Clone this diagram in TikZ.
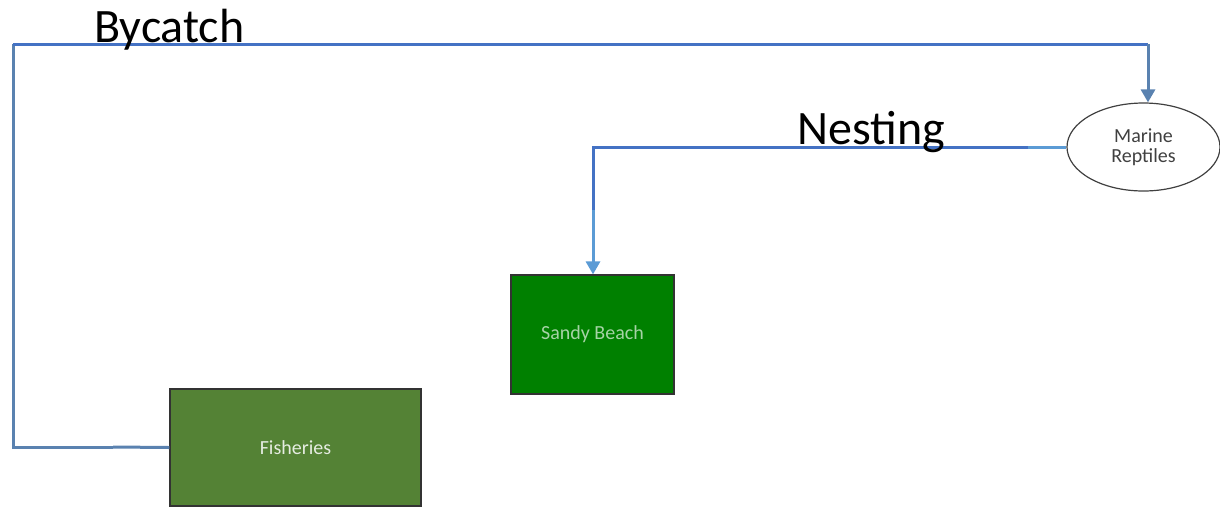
\documentclass[tikz,border=0pt]{standalone}
\usepackage{fontspec}
\setmainfont{Carlito}
\usetikzlibrary{arrows.meta,shapes.geometric}
\definecolor{darkln}{HTML}{4472C4}
\definecolor{lightln}{HTML}{5B9BD5}
\definecolor{steelln}{HTML}{5A82B0}
\definecolor{fishfill}{HTML}{548235}
\definecolor{beachfill}{HTML}{008000}
\tikzset{
  box/.style={draw=black!80, line width=1.2pt, minimum width=#1, inner sep=0pt},
  conn/.style={line width=3pt},
  lbl/.style={font=\fontsize{48}{52}\selectfont, text=black, inner sep=0pt},
  small/.style={font=\fontsize{20}{23}\selectfont}
}
\begin{document}
\begin{tikzpicture}[x=1pt,y=-1pt]
\useasboundingbox (0,0) rectangle (1220,507);
% nodes
\node[box=251pt, minimum height=117pt, fill=fishfill, small, text=white!85!fishfill] (fish) at (295.5,447.5) {Fisheries};
\node[box=163pt, minimum height=119pt, fill=beachfill, small, text=white!65!beachfill] (beach) at (592.5,334.5) {Sandy Beach};
\node[ellipse, draw=black!75, line width=1.2pt, minimum width=153pt, minimum height=88pt, inner sep=0pt, small, text=black!75, align=center] (rept) at (1143.5,147) {Marine\\[-3pt]Reptiles};
% coordinates
\coordinate (b1) at (113,447);
\coordinate (b2) at (13,447);
\coordinate (b3) at (13,44);
\coordinate (b4) at (1148,44);
\coordinate (n1) at (1028,147);
\coordinate (n2) at (593,147);
\coordinate (n3) at (593,210);
% Bycatch connector
\draw[conn, steelln] (fish.west) -- (b1);
\draw[conn, steelln, line join=miter] (b1) -- (b2) -- (b3);
\draw[conn, darkln, line join=miter] (b3) -- (b4);
\draw[conn, steelln, -{Triangle[length=13pt,width=14pt]}] (b4) -- (rept.north -| b4);
% Nesting connector
\draw[conn, lightln] (rept.west) -- (n1);
\draw[conn, darkln, line join=miter] (n1) -- (n2) -- (n3);
\draw[conn, lightln, -{Triangle[length=13pt,width=14pt]}] (n3) -- (beach.north -| n3);
% labels
\node[lbl, anchor=base west] (bylbl) at (94,42) {Bycatch};
\node[lbl, anchor=base west] (nelbl) at (797,144) {Nesting};
\end{tikzpicture}
\end{document}
